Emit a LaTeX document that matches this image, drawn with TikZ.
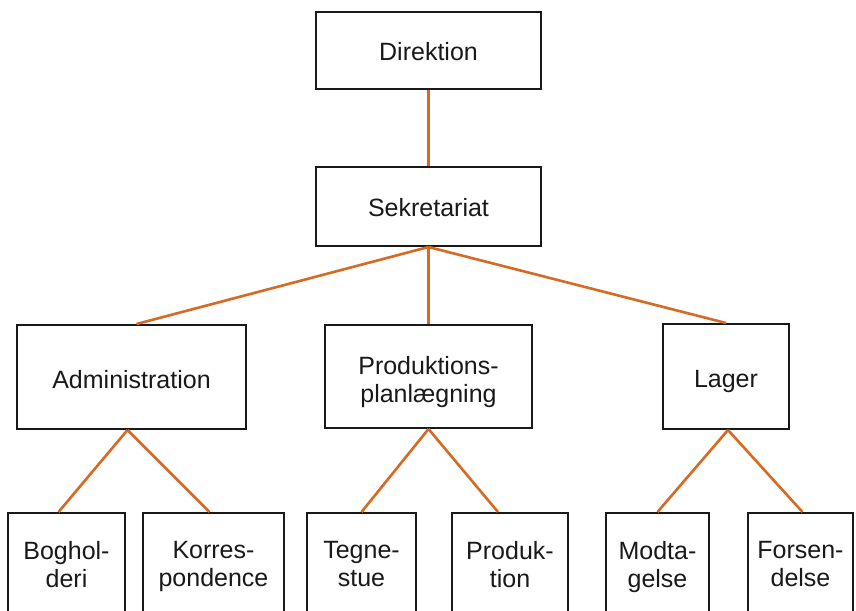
\documentclass[tikz,border=0pt]{standalone}
\usepackage{fontspec}
\setmainfont{Liberation Sans}
\definecolor{linkorange}{RGB}{214,106,34}
\definecolor{boxline}{RGB}{25,25,25}
\begin{document}
\begin{tikzpicture}[x=1pt,y=-1pt,
  orgbox/.style={draw=boxline,line width=2pt,fill=white,inner sep=0pt},
  orgtext/.style={inner sep=0pt,anchor=north,align=center,
    font=\fontsize{25}{28}\selectfont,text=boxline},
  link/.style={draw=linkorange,line width=2.6pt}]
\useasboundingbox (0,0) rectangle (856,610);
\clip (0,0) rectangle (856,610);
\fill[white] (0,0) rectangle (856,610);
% boxes
\node[orgbox,minimum width=225pt,minimum height=77pt] (dir) at (428.5,50.5) {};
\node[orgbox,minimum width=225pt,minimum height=79pt] (sek) at (428.5,206.5) {};
\node[orgbox,minimum width=229pt,minimum height=104pt] (adm) at (131.5,377) {};
\node[orgbox,minimum width=207pt,minimum height=103pt] (plan) at (428.5,376.5) {};
\node[orgbox,minimum width=126pt,minimum height=105pt] (lag) at (726,376.5) {};
\node[orgbox,minimum width=117pt,minimum height=112pt] (bog) at (66.5,569) {};
\node[orgbox,minimum width=141pt,minimum height=112pt] (kor) at (213.5,569) {};
\node[orgbox,minimum width=109pt,minimum height=112pt] (teg) at (361.5,569) {};
\node[orgbox,minimum width=116pt,minimum height=112pt] (pro) at (510,569) {};
\node[orgbox,minimum width=103pt,minimum height=112pt] (mod) at (657.5,569) {};
\node[orgbox,minimum width=105pt,minimum height=112pt] (for) at (800.5,569) {};
% texts
\node[orgtext] (dirT) at (428.5,42) {Direktion};
\node[orgtext] (sekT) at (428.5,198) {Sekretariat};
\node[orgtext] (admT) at (131.5,370) {Administration};
\node[orgtext] (planT) at (428.5,356) {Produktions-\\planlægning};
\node[orgtext] (lagT) at (726,370) {Lager};
\node[orgtext] (bogT) at (66.5,541) {Boghol-\\deri};
\node[orgtext] (korT) at (213.5,541) {Korres-\\pondence};
\node[orgtext] (tegT) at (361.5,541) {Tegne-\\stue};
\node[orgtext] (proT) at (510,541) {Produk-\\tion};
\node[orgtext] (modT) at (657.5,541) {Modta-\\gelse};
\node[orgtext] (forT) at (800.5,541) {Forsen-\\delse};
% connectors
\draw[link] (dir.south) -- (sek.north);
\draw[link] (sek.south) -- ([xshift=5pt]adm.north);
\draw[link] (sek.south) -- (plan.north);
\draw[link] (sek.south) -- (lag.north);
\draw[link] ([xshift=-4pt]adm.south) -- ([xshift=-8pt]bog.north);
\draw[link] ([xshift=-4pt]adm.south) -- ([xshift=-4pt]kor.north);
\draw[link] (plan.south) -- (teg.north);
\draw[link] (plan.south) -- ([xshift=-12pt]pro.north);
\draw[link] ([xshift=2pt]lag.south) -- (mod.north);
\draw[link] ([xshift=2pt]lag.south) -- ([xshift=2pt]for.north);
\end{tikzpicture}
\end{document}
